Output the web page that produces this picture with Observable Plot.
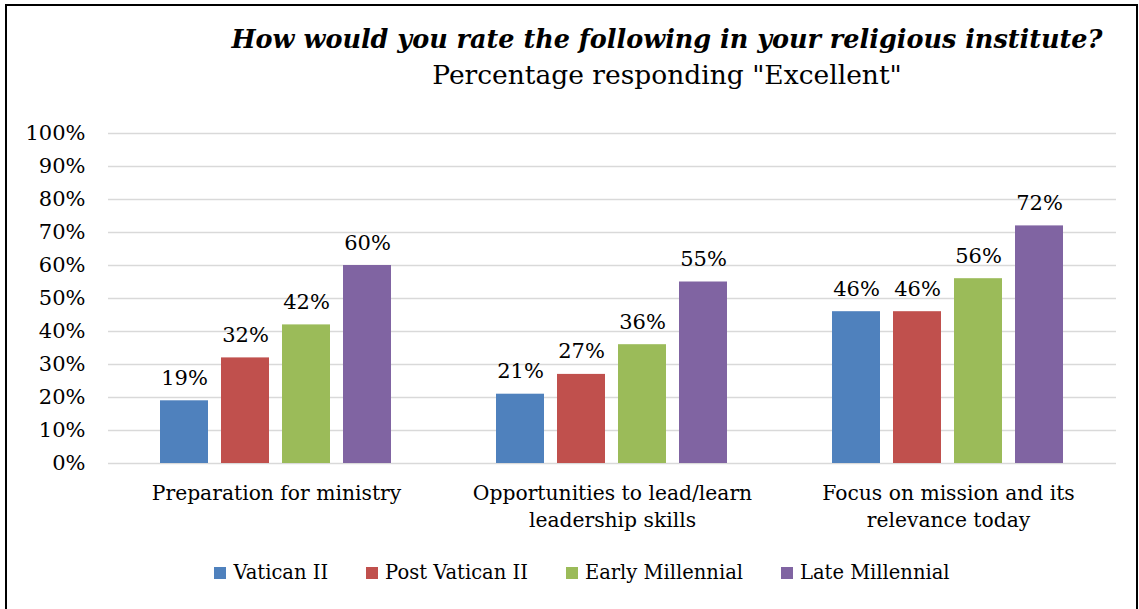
<!DOCTYPE html>
<html>
<head>
<meta charset="utf-8">
<script src="https://cdn.jsdelivr.net/npm/d3@7"></script>
<script src="https://cdn.jsdelivr.net/npm/@observablehq/plot@0.6"></script>
<style>
  body { margin: 0; background: #fff; width: 1139px; height: 609px; overflow: hidden; position: relative; font-family: "DejaVu Serif", serif; color: #000; }
  #frame { position: absolute; left: 5px; top: 4px; width: 1133px; height: 620px; border: 2px solid #000; box-sizing: border-box; }
  #title { position: absolute; left: 0; width: 1334px; top: 24px; text-align: center; font-size: 25.5px; font-weight: bold; font-style: italic; white-space: nowrap; line-height: 30px; }
  #subtitle { position: absolute; left: 0; width: 1334px; top: 60px; text-align: center; font-size: 26.5px; white-space: nowrap; line-height: 30px; }
  #chart { position: absolute; left: 0; top: 110px; }
  #legend { position: absolute; left: 0; width: 1164px; top: 561px; display: flex; justify-content: center; gap: 38px; font-size: 19.5px; line-height: 24px; }
  .item { display: flex; align-items: center; gap: 7px; }
  .sw { width: 12px; height: 12px; display: inline-block; }
</style>
</head>
<body>
<div id="frame"></div>
<div id="title">How would you rate the following in your religious institute?</div>
<div id="subtitle">Percentage responding "Excellent"</div>
<div id="chart"></div>
<div id="legend"></div>
<script>
const categories = ["Preparation for ministry", "Opportunities to lead/learn leadership skills", "Focus on mission and its relevance today"];
const categoryLabels = ["Preparation for ministry", "Opportunities to lead/learn\nleadership skills", "Focus on mission and its\nrelevance today"];
const series = ["Vatican II", "Post Vatican II", "Early Millennial", "Late Millennial"];
const colors = ["#4F81BD", "#C0504D", "#9BBB59", "#8064A2"];
const vatican2 = [19, 21, 46];
const postVatican2 = [32, 27, 46];
const earlyMillennial = [42, 36, 56];
const lateMillennial = [60, 55, 72];
const yTicks = [0, 10, 20, 30, 40, 50, 60, 70, 80, 90, 100];

const seriesValues = [vatican2, postVatican2, earlyMillennial, lateMillennial];
const data = [];
categories.forEach((c, i) => series.forEach((s, j) => data.push({category: c, series: s, value: seriesValues[j][i]})));

const chart = Plot.plot({
  width: 1139,
  height: 450,
  marginTop: 23,
  marginBottom: 97,
  marginLeft: 107,
  marginRight: 22,
  style: {fontFamily: "'DejaVu Serif', serif", fontSize: "19px", color: "#000", background: "transparent"},
  fx: {domain: categories, padding: 0, label: null, axis: null},
  x: {domain: series, paddingInner: 0.21, paddingOuter: 0.85, axis: null},
  y: {domain: [0, 100], axis: null},
  color: {domain: series, range: colors},
  marks: [
    Plot.gridY(yTicks, {stroke: "#d9d9d9", strokeOpacity: 1, strokeWidth: 1.6}),
    Plot.axisY(yTicks, {tickSize: 0, tickPadding: 23, tickFormat: d => d + "%", label: null, fill: "#000", fontSize: 21}),
    Plot.axisFx({anchor: "bottom", tickSize: 0, tickPadding: 17, label: null, lineHeight: 1.35, tickFormat: d => categoryLabels[categories.indexOf(d)], fill: "#000", fontSize: 20.3}),
    Plot.barY(data, {fx: "category", x: "series", y: "value", fill: "series"}),
    Plot.text(data, {fx: "category", x: "series", y: "value", text: d => d.value + "%", lineAnchor: "bottom", dy: -16, fill: "#000", fontSize: 21})
  ]
});
document.getElementById("chart").appendChild(chart);

const legend = document.getElementById("legend");
series.forEach((s, i) => {
  const it = document.createElement("div");
  it.className = "item";
  it.innerHTML = `<span class="sw" style="background:${colors[i]}"></span><span>${s}</span>`;
  legend.appendChild(it);
});
</script>
</body>
</html>
